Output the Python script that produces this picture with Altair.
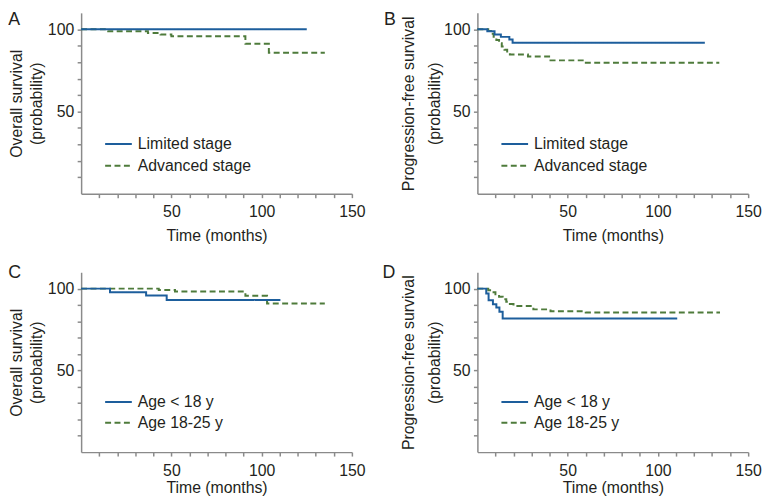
import altair as alt
import pandas as pd

BLUE = "#1d5e9c"
GREEN = "#4e7b3b"
AXIS = "#8a8a8a"
TEXT = "#231f20"
FONT = "Liberation Sans"

panel_letters = ["A", "B", "C", "D"]
y_titles = [
    ["Overall survival", "(probability)"],
    ["Progression-free survival", "(probability)"],
    ["Overall survival", "(probability)"],
    ["Progression-free survival", "(probability)"],
]
x_title = "Time (months)"
stage_labels = ["Limited stage", "Advanced stage"]
age_labels = ["Age < 18 y", "Age 18-25 y"]
x_ticks = [10, 20, 30, 40, 50, 60, 70, 80, 90, 100, 110, 120, 130, 140, 150]
y_ticks = [10, 20, 30, 40, 50, 60, 70, 80, 90, 100]

# Panel A: overall survival by stage
a_lim_t = [0, 125]
a_lim_s = [100, 100]
a_adv_t = [0, 15, 37, 44, 50, 91, 104, 135]
a_adv_s = [100, 98.8, 97.8, 96.8, 95.8, 91.2, 85.8, 85.8]

# Panel B: progression-free survival by stage
b_lim_t = [0, 5.5, 9.5, 13, 17.7, 19.5, 126]
b_lim_s = [100, 98.8, 96.8, 95.4, 93.8, 91.8, 91.8]
b_adv_t = [0, 6, 7.5, 9, 10.5, 12, 13.5, 15, 16.5, 18, 28, 40.5, 59.5, 134]
b_adv_s = [100, 99, 97.3, 95.5, 93.5, 91.5, 89.5, 87.5, 85.8, 84.7, 83.5, 81.1, 79.7, 79.7]

# Panel C: overall survival by age
c_young_t = [0, 16, 36, 47.4, 110.4]
c_young_s = [100, 97.8, 95.8, 93.1, 93.1]
c_old_t = [0, 43, 52, 91, 103, 135]
c_old_s = [100, 99.2, 98.2, 95.6, 90.9, 90.9]

# Panel D: progression-free survival by age
d_young_t = [0, 4.9, 6.2, 8.6, 10.5, 12.2, 14, 110.7]
d_young_s = [100, 97, 92.9, 90.5, 88.5, 85.8, 81.7, 81.7]
d_old_t = [0, 6, 8, 10, 12, 14, 16, 18, 20, 31, 40.5, 60, 134.4]
d_old_s = [100, 99, 97.8, 96.5, 95, 93.5, 92, 90.6, 89.4, 87.3, 86.1, 85.4, 85.4]


def panel(letter, ytitle, labels, first, second, height, letter_xy, title_x, title_lh,
          legend_y, clip_h, xlabel_pad, xtitle_y):
    rows = []
    # second (dashed) series first so the solid one is drawn on top
    for lab, ts, ss in [(labels[1],) + second, (labels[0],) + first]:
        for t, s in zip(ts, ss):
            rows.append({"group": lab, "time": t, "surv": s})
    df = pd.DataFrame(rows)
    leg = alt.Legend(
        title=None, orient="none", legendX=23.3, legendY=legend_y,
        symbolType="stroke", symbolSize=729, symbolStrokeWidth=2,
        labelFont=FONT, labelFontSize=16, labelColor=TEXT, labelOffset=5,
        clipHeight=clip_h, rowPadding=0, padding=0,
    )
    lines = alt.Chart(df).mark_line(interpolate="step-after", strokeWidth=2).encode(
        x=alt.X("time:Q", scale=alt.Scale(domain=[0, 150], nice=False),
                axis=alt.Axis(values=x_ticks, title=x_title,
                              labelExpr="datum.value % 50 === 0 ? datum.label : ''",
                              labelFlush=False, labelOverlap=False,
                              labelPadding=xlabel_pad, titleY=xtitle_y,
                              titleBaseline="top")),
        y=alt.Y("surv:Q", scale=alt.Scale(domain=[0, 110], nice=False),
                axis=alt.Axis(values=y_ticks, title=ytitle,
                              labelExpr="datum.value % 50 === 0 ? datum.label : ''",
                              labelOverlap=False, labelPadding=3.5,
                              titleX=title_x, titleBaseline="top",
                              titleLineHeight=title_lh)),
        color=alt.Color("group:N", scale=alt.Scale(domain=labels, range=[BLUE, GREEN]),
                        legend=leg),
        strokeDash=alt.StrokeDash("group:N",
                                  scale=alt.Scale(domain=labels, range=[[1, 0], [6, 3.5]]),
                                  legend=leg),
    )
    lt = alt.Chart(pd.DataFrame({"letter": [letter]})).mark_text(
        align="left", baseline="top", fontSize=18, font=FONT, color=TEXT
    ).encode(text="letter:N", x=alt.value(letter_xy[0]), y=alt.value(letter_xy[1]))
    return alt.layer(lines, lt).properties(width=274, height=height)


pA = panel(panel_letters[0], y_titles[0], stage_labels, (a_lim_t, a_lim_s), (a_adv_t, a_adv_s),
           183, (-73.7, -1.3), -73.7, 21, 121.7, 22, 6.5, 34)
pB = panel(panel_letters[1], y_titles[1], stage_labels, (b_lim_t, b_lim_s), (b_adv_t, b_adv_s),
           183, (-94.4, -1.3), -77.5, 26, 121.7, 22, 6.5, 34)
pC = panel(panel_letters[2], y_titles[2], age_labels, (c_young_t, c_young_s), (c_old_t, c_old_s),
           182, (-73.7, -7.8), -73.7, 21, 121, 20.5, 7, 27.5)
pD = panel(panel_letters[3], y_titles[3], age_labels, (d_young_t, d_young_s), (d_old_t, d_old_s),
           182, (-96, -7.8), -77.5, 26, 121, 20.5, 7, 27.5)

chart = alt.concat(pA, pB, pC, pD, columns=2, spacing={"row": 79.5, "column": 127},
                   bounds="flush").resolve_scale(
    color="independent", strokeDash="independent"
).resolve_legend(color="independent", strokeDash="independent").properties(
    padding={"left": 0, "top": 0, "right": 0, "bottom": 0}
).configure_view(stroke=None).configure_axis(
    domainColor=AXIS, tickColor=AXIS, domainWidth=1.5, tickWidth=1.5, grid=False,
    labelFont=FONT, titleFont=FONT, labelColor=TEXT, titleColor=TEXT,
    labelFontSize=16, titleFontSize=16, titleFontWeight="normal", tickSize=4,
)

chart.save("out.html", embed_options={"renderer": "svg", "actions": False})
